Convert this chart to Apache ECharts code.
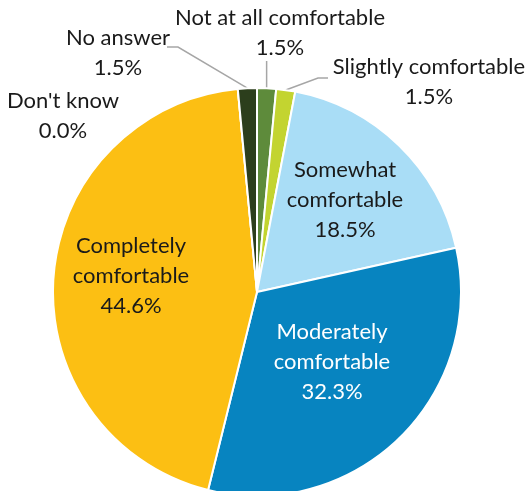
<!DOCTYPE html>
<html>
<head>
<meta charset="utf-8">
<script src="https://cdn.jsdelivr.net/npm/echarts@6/dist/echarts.min.js"></script>
<style>
  html, body { margin: 0; padding: 0; background: #ffffff; }
  #chart { width: 529px; height: 491px; }
</style>
</head>
<body>
<div id="chart"></div>
<script>
// Survey answers, in clockwise order starting at 12 o'clock
const categories = [
  'Not at all comfortable',
  'Slightly comfortable',
  'Somewhat comfortable',
  'Moderately comfortable',
  'Completely comfortable',
  "Don't know",
  'No answer'
];
const shares = [1.5, 1.5, 18.5, 32.3, 44.6, 0.0, 1.5];

const sliceColors = ['#5E8B3B', '#C3D430', '#A9DDF6', '#0784C0', '#FCBF13', '#7F7F7F', '#2C3E1C'];
const insideLabels = [false, false, true, true, true, false, false];
const labelColors = ['#1a1a1a', '#1a1a1a', '#1a1a1a', '#ffffff', '#1a1a1a', '#1a1a1a', '#1a1a1a'];

// Where each label block is centred, and the elbow/end of its leader line
const labelSpots = [
  { x: 280, y: 33, line: (p) => [[p[0], 70], [p[0], 61]] },
  { x: 429, y: 82, line: () => [[318, 78], [328, 78]] },
  { x: 345, y: 200 },
  { x: 332, y: 362 },
  { x: 131, y: 276 },
  { x: 63, y: 116 },
  { x: 118, y: 53, line: () => [[178, 47], [167, 47]] }
];

const chart = echarts.init(document.getElementById('chart'), null, { renderer: 'canvas' });

const seriesData = categories.map((name, i) => ({
  name: name,
  value: shares[i],
  itemStyle: { color: sliceColors[i] },
  label: {
    position: insideLabels[i] ? 'inside' : 'outside',
    color: labelColors[i]
  },
  labelLine: { show: !insideLabels[i] && !!labelSpots[i].line }
}));

chart.setOption({
  animation: false,
  series: [{
    type: 'pie',
    center: [257, 292],
    radius: 204,
    startAngle: 90,
    clockwise: true,
    avoidLabelOverlap: false,
    minShowLabelAngle: 0,
    itemStyle: { borderColor: '#ffffff', borderWidth: 2 },
    label: {
      show: true,
      fontFamily: 'Lato',
      fontSize: 22,
      lineHeight: 30,
      align: 'center',
      formatter: (p) => {
        // Labels sitting inside a slice wrap onto two lines before the value
        const text = insideLabels[p.dataIndex] ? p.name.replace(' ', '\n') : p.name;
        return text + '\n' + p.value.toFixed(1) + '%';
      }
    },
    labelLine: {
      show: true,
      length: 10,
      length2: 10,
      lineStyle: { color: '#A6A6A6', width: 1.5 }
    },
    labelLayout: (params) => {
      const spot = labelSpots[params.dataIndex];
      const out = { x: spot.x, y: spot.y, align: 'center', verticalAlign: 'middle' };
      if (spot.line && params.labelLinePoints) {
        const p0 = params.labelLinePoints[0];
        out.labelLinePoints = [p0].concat(spot.line(p0));
      }
      return out;
    },
    data: seriesData
  }]
});
</script>
</body>
</html>
